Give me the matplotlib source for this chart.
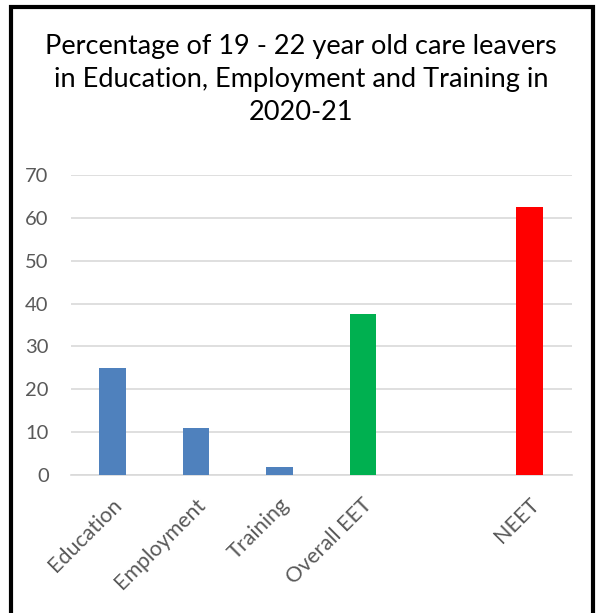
import matplotlib
matplotlib.use("Agg")
import matplotlib.pyplot as plt
from matplotlib.patches import Rectangle
from matplotlib.transforms import ScaledTranslation

categories = ["Education", "Employment", "Training", "Overall EET", "", "NEET"]
values = [25, 11, 2, 37.5, 0, 62.5]
colors = ["#4F81BD", "#4F81BD", "#4F81BD", "#00B050", "#FFFFFF", "#FF0000"]
yticks = [0, 10, 20, 30, 40, 50, 60, 70]

plt.rcParams["font.family"] = ["Lato", "DejaVu Sans"]

fig = plt.figure(figsize=(5.96, 6.13), dpi=100)
ax = fig.add_axes([0.119, 0.2246, 0.84, 0.4904])

x = range(len(categories))
ax.bar(x, values, width=0.32, color=colors, zorder=3)
ax.set_xlim(-0.5, len(categories) - 0.5)
ax.set_ylim(0, 70)
ax.set_yticks(yticks)
ax.set_yticklabels([str(t) for t in yticks], fontsize=14.5, color="#595959")
ax.set_xticks(list(x))
ax.set_xticklabels(categories, rotation=45, ha="right", va="center",
                   rotation_mode="anchor", fontsize=15.5, color="#595959")
ax.tick_params(axis="both", length=0)
ax.tick_params(axis="y", pad=16)
ax.tick_params(axis="x", pad=19)
# nudge the slanted labels a little to the right
shift = ScaledTranslation(0.06, 0, fig.dpi_scale_trans)
for lbl in ax.get_xticklabels():
    lbl.set_transform(lbl.get_transform() + shift)
ax.grid(axis="y", color="#D9D9D9", linewidth=1.2, zorder=0)
for s in ["top", "right", "left"]:
    ax.spines[s].set_visible(False)
ax.spines["bottom"].set_color("#D9D9D9")
ax.spines["bottom"].set_linewidth(1.2)

fig.text(0.505, 0.944, "Percentage of 19 - 22 year old care leavers\n"
         "in Education, Employment and Training in\n2020-21",
         ha="center", va="top", fontsize=19.5, color="black", linespacing=1.38)

# chart border (bottom edge falls outside the picture)
fig.patches.append(Rectangle((0.0185, -0.05), 0.9765, 1.039, transform=fig.transFigure,
                             fill=False, edgecolor="black", linewidth=3, clip_on=False))

fig.savefig("out.png", dpi=100, facecolor="white")
